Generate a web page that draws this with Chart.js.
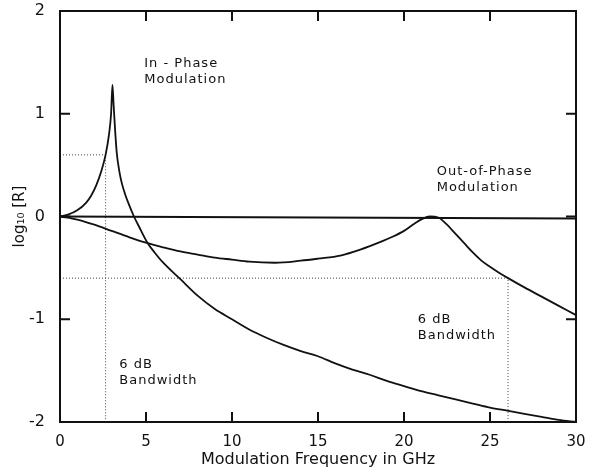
<!DOCTYPE html>
<html>
<head>
<meta charset="utf-8">
<script src="https://cdn.jsdelivr.net/npm/chart.js@4.4.0/dist/chart.umd.min.js"></script>
<style>
  html, body { margin: 0; padding: 0; background: #fff; }
  #wrap { width: 600px; height: 472px; }
</style>
</head>
<body>
<div id="wrap"><canvas id="chart"></canvas></div>
<script>
// frequencies in GHz, values are log10[R]
const inPhaseX = [0, 0.5, 1.0, 1.5, 1.8, 2.1, 2.4, 2.65, 2.85, 2.97, 3.05, 3.12, 3.2, 3.3, 3.45, 3.6, 3.8, 4.0, 4.3, 4.6, 5.1, 5.5, 6, 7, 8, 9, 10, 11, 12, 13, 14, 15, 16, 17, 18, 19, 20, 21, 22, 23, 24, 25, 26, 27, 28, 29, 30];
const inPhaseY = [0, 0.02, 0.06, 0.13, 0.2, 0.3, 0.44, 0.6, 0.8, 1.0, 1.28, 1.08, 0.85, 0.62, 0.44, 0.32, 0.21, 0.12, 0, -0.1, -0.26, -0.35, -0.45, -0.61, -0.77, -0.9, -1.0, -1.1, -1.18, -1.25, -1.31, -1.36, -1.43, -1.49, -1.54, -1.6, -1.65, -1.7, -1.74, -1.78, -1.82, -1.86, -1.89, -1.92, -1.95, -1.98, -2.0];

const outPhaseX = [0, 1, 2, 3, 4, 5.1, 6, 7, 8, 9, 10, 11, 12.5, 14, 15, 16.3, 17.5, 18.6, 19.3, 20, 20.6, 21.1, 21.5, 22, 22.5, 23, 23.5, 24, 24.5, 25, 25.5, 26.05, 27, 28, 29, 30];
const outPhaseY = [0, -0.03, -0.08, -0.14, -0.2, -0.26, -0.3, -0.34, -0.37, -0.4, -0.42, -0.44, -0.45, -0.43, -0.41, -0.38, -0.32, -0.25, -0.2, -0.14, -0.07, -0.02, 0, -0.01, -0.08, -0.17, -0.26, -0.35, -0.43, -0.49, -0.545, -0.6, -0.69, -0.78, -0.87, -0.96];

const refX = [0, 30];
const refY = [0, -0.02];

// 6 dB bandwidth construction lines
const bwInX = [0, 2.65, 2.65];
const bwInY = [0.6, 0.6, -2];
const bwOutX = [0, 26.05, 26.05];
const bwOutY = [-0.6, -0.6, -2];

const xTicks = [0, 5, 10, 15, 20, 25, 30];
const yTicks = [-2, -1, 0, 1, 2];

const notes = [
  { x: 4.9, y: 1.49, lines: ['In - Phase', 'Modulation'] },
  { x: 21.9, y: 0.44, lines: ['Out-of-Phase', 'Modulation'] },
  { x: 3.45, y: -1.44, lines: ['6 dB', 'Bandwidth'] },
  { x: 20.8, y: -1.0, lines: ['6 dB', 'Bandwidth'] }
];

const FONT = "'DejaVu Sans', sans-serif";

function zip(xs, ys) {
  return xs.map((x, i) => ({ x: x, y: ys[i] }));
}

const frameAndNotes = {
  id: 'frameAndNotes',
  afterDatasetsDraw(chart) {
    const { ctx, chartArea: a, scales: { x, y } } = chart;
    ctx.save();
    ctx.strokeStyle = '#111';
    ctx.lineWidth = 2;
    ctx.strokeRect(a.left, a.top, a.right - a.left, a.bottom - a.top);

    // inward ticks on all four sides
    const len = 10;
    ctx.beginPath();
    xTicks.slice(1, -1).forEach(v => {
      const px = x.getPixelForValue(v);
      ctx.moveTo(px, a.bottom); ctx.lineTo(px, a.bottom - len);
      ctx.moveTo(px, a.top); ctx.lineTo(px, a.top + len);
    });
    yTicks.slice(1, -1).forEach(v => {
      const py = y.getPixelForValue(v);
      ctx.moveTo(a.left, py); ctx.lineTo(a.left + len, py);
      ctx.moveTo(a.right, py); ctx.lineTo(a.right - len, py);
    });
    ctx.stroke();

    ctx.fillStyle = '#111';
    ctx.font = '13px ' + FONT;
    ctx.textAlign = 'left';
    ctx.textBaseline = 'middle';
    ctx.letterSpacing = '1px';
    notes.forEach(n => {
      const px = x.getPixelForValue(n.x);
      const py = y.getPixelForValue(n.y);
      n.lines.forEach((t, i) => ctx.fillText(t, px, py + i * 16));
    });
    ctx.restore();
  }
};

const solid = { borderColor: '#111', borderWidth: 1.8, pointRadius: 0, showLine: true, fill: false };
const dotted = { borderColor: '#444', borderWidth: 1, borderDash: [1, 2], pointRadius: 0, showLine: true, fill: false, tension: 0 };

new Chart(document.getElementById('chart'), {
  type: 'scatter',
  data: {
    datasets: [
      Object.assign({ label: 'In-Phase Modulation', data: zip(inPhaseX, inPhaseY), cubicInterpolationMode: 'monotone' }, solid),
      Object.assign({ label: 'Out-of-Phase Modulation', data: zip(outPhaseX, outPhaseY), cubicInterpolationMode: 'monotone' }, solid),
      Object.assign({ label: 'Reference', data: zip(refX, refY) }, solid, { borderWidth: 2 }),
      Object.assign({ label: '6 dB in-phase', data: zip(bwInX, bwInY) }, dotted),
      Object.assign({ label: '6 dB out-of-phase', data: zip(bwOutX, bwOutY) }, dotted)
    ]
  },
  options: {
    responsive: true,
    maintainAspectRatio: false,
    animation: false,
    layout: { padding: { left: 0, right: 24, top: 11, bottom: 0 } },
    plugins: {
      legend: { display: false },
      tooltip: { enabled: false }
    },
    scales: {
      x: {
        type: 'linear',
        min: 0, max: 30,
        afterBuildTicks: s => { s.ticks = xTicks.map(v => ({ value: v })); },
        afterFit: s => { s.height = 50; },
        grid: { display: false },
        border: { display: false },
        ticks: { color: '#111', padding: 3, font: { family: FONT, size: 15 } },
        title: {
          display: true,
          text: 'Modulation Frequency in GHz',
          color: '#111',
          font: { family: FONT, size: 16 },
          padding: { top: 0, bottom: 3 }
        }
      },
      y: {
        type: 'linear',
        min: -2, max: 2,
        afterBuildTicks: s => { s.ticks = yTicks.map(v => ({ value: v })); },
        afterFit: s => { s.width = 60; s.paddingTop = 0; s.paddingBottom = 0; },
        grid: { display: false },
        border: { display: false },
        ticks: { color: '#111', padding: 7, font: { family: FONT, size: 16 } },
        title: {
          display: true,
          text: 'log₁₀ [R]',
          color: '#111',
          font: { family: FONT, size: 15 },
          padding: { top: 11, bottom: 0 }
        }
      }
    }
  },
  plugins: [frameAndNotes]
});
</script>
</body>
</html>
